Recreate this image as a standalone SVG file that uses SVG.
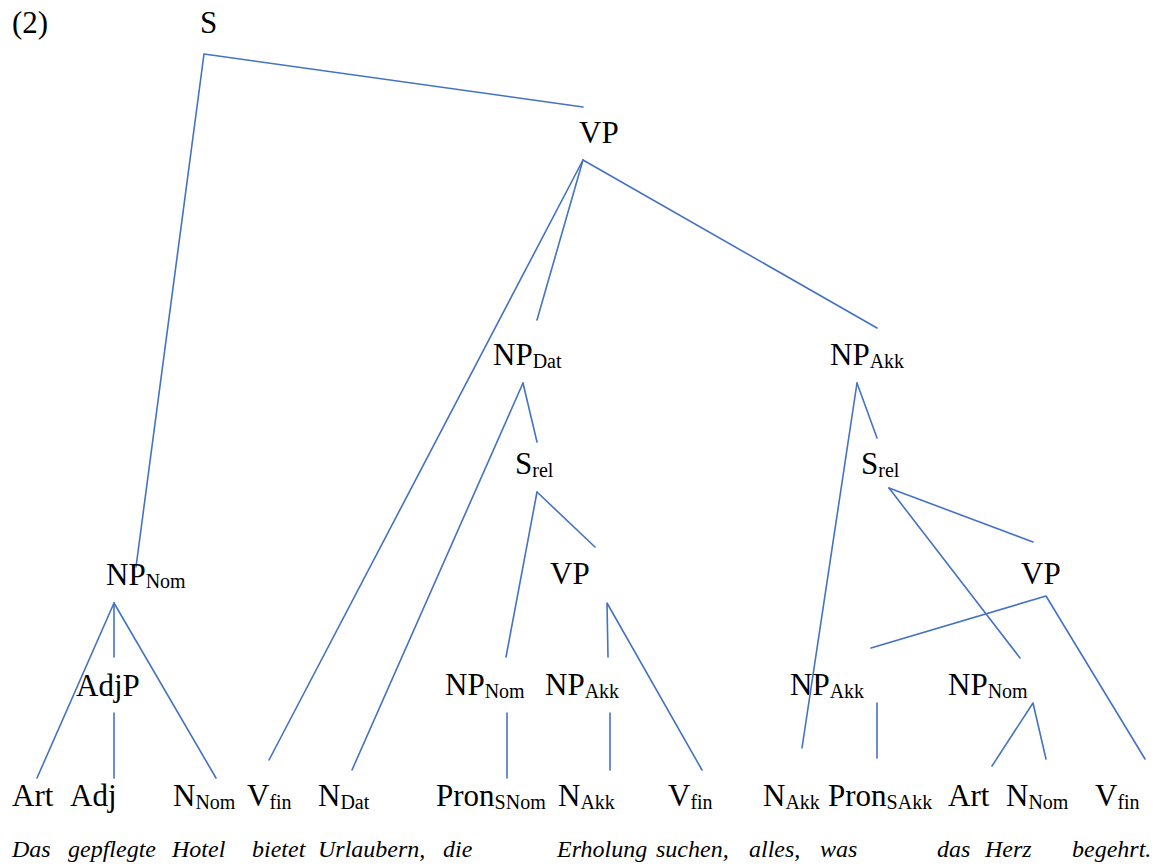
<svg xmlns="http://www.w3.org/2000/svg" width="1165" height="866" viewBox="0 0 1165 866">
  <style>
    .lbl { font-family: 'Liberation Serif', 'DejaVu Serif', 'Times New Roman', Times, serif; font-size: 31px; fill: #000; }
    .sub { font-size: 20px; }
    .word { font-family: 'Liberation Serif', 'DejaVu Serif', 'Times New Roman', Times, serif; font-size: 24px; font-style: italic; fill: #000; }
    .edge { stroke: #4472C4; stroke-width: 1.6; fill: none; stroke-linecap: round; stroke-linejoin: round; }
  </style>
  <rect width="1165" height="866" fill="#fff"/>

  <!-- example number -->
  <text class="lbl" x="12" y="33">(2)</text>

  <!-- tree connectors -->
  <g id="connectors" class="edge">
    <polyline points="136,567 204,54 583,107"/>
    <line x1="583" y1="160" x2="269" y2="760"/>
    <line x1="583" y1="160" x2="537" y2="320"/>
    <line x1="583" y1="160" x2="877" y2="328"/>
    <line x1="523" y1="383" x2="352" y2="770"/>
    <line x1="523" y1="383" x2="537" y2="442"/>
    <line x1="537" y1="492" x2="506" y2="657"/>
    <line x1="537" y1="492" x2="595" y2="547"/>
    <polyline points="608,657 607,603 702,770"/>
    <line x1="507" y1="713" x2="507" y2="778"/>
    <line x1="610" y1="713" x2="610" y2="770"/>
    <line x1="114" y1="603" x2="37" y2="778"/>
    <line x1="114" y1="603" x2="114" y2="657"/>
    <line x1="114" y1="603" x2="216" y2="778"/>
    <line x1="114" y1="713" x2="114" y2="778"/>
    <line x1="857" y1="383" x2="877" y2="438"/>
    <line x1="857" y1="383" x2="802" y2="748"/>
    <line x1="889" y1="488" x2="1033" y2="542"/>
    <line x1="889" y1="488" x2="1020" y2="658"/>
    <polyline points="871,648 1046,596 1145,759"/>
    <line x1="877" y1="703" x2="877" y2="758"/>
    <polyline points="992,766 1033,703 1046,759"/>
  </g>

  <!-- phrase nodes -->
  <g id="n-s"><text class="lbl" x="200" y="33">S</text></g>
  <g id="n-vp"><text class="lbl" x="579" y="143">VP</text></g>
  <g id="n-np-dat"><text class="lbl" x="493" y="365">NP<tspan class="sub" dy="3">Dat</tspan></text></g>
  <g id="n-np-akk"><text class="lbl" x="830" y="365">NP<tspan class="sub" dy="3">Akk</tspan></text></g>
  <g id="n-srel-1"><text class="lbl" x="515" y="474">S<tspan class="sub" dy="3">rel</tspan></text></g>
  <g id="n-srel-2"><text class="lbl" x="861" y="474">S<tspan class="sub" dy="3">rel</tspan></text></g>
  <g id="n-np-nom"><text class="lbl" x="106" y="585">NP<tspan class="sub" dy="3">Nom</tspan></text></g>
  <g id="n-vp-1"><text class="lbl" x="550" y="584">VP</text></g>
  <g id="n-vp-2"><text class="lbl" x="1021" y="584">VP</text></g>
  <g id="n-adjp"><text class="lbl" x="76" y="696">AdjP</text></g>
  <g id="n-np-nom-1"><text class="lbl" x="445" y="695">NP<tspan class="sub" dy="3">Nom</tspan></text></g>
  <g id="n-np-akk-1"><text class="lbl" x="545" y="695">NP<tspan class="sub" dy="3">Akk</tspan></text></g>
  <g id="n-np-akk-2"><text class="lbl" x="790" y="695">NP<tspan class="sub" dy="3">Akk</tspan></text></g>
  <g id="n-np-nom-2"><text class="lbl" x="948" y="695">NP<tspan class="sub" dy="3">Nom</tspan></text></g>

  <!-- word-class leaves -->
  <g id="t-art-1"><text class="lbl" x="12" y="806">Art</text></g>
  <g id="t-adj"><text class="lbl" x="70" y="806">Adj</text></g>
  <g id="t-n-nom-1"><text class="lbl" x="173" y="806">N<tspan class="sub" dy="3">Nom</tspan></text></g>
  <g id="t-vfin-1"><text class="lbl" x="247" y="806">V<tspan class="sub" dy="3">fin</tspan></text></g>
  <g id="t-n-dat"><text class="lbl" x="318" y="806">N<tspan class="sub" dy="3">Dat</tspan></text></g>
  <g id="t-pron-snom"><text class="lbl" x="436" y="806">Pron<tspan class="sub" dy="3">SNom</tspan></text></g>
  <g id="t-n-akk-1"><text class="lbl" x="558" y="806">N<tspan class="sub" dy="3">Akk</tspan></text></g>
  <g id="t-vfin-2"><text class="lbl" x="668" y="806">V<tspan class="sub" dy="3">fin</tspan></text></g>
  <g id="t-n-akk-2"><text class="lbl" x="763" y="806">N<tspan class="sub" dy="3">Akk</tspan></text></g>
  <g id="t-pron-sakk"><text class="lbl" x="828" y="806">Pron<tspan class="sub" dy="3">SAkk</tspan></text></g>
  <g id="t-art-2"><text class="lbl" x="948" y="806">Art</text></g>
  <g id="t-n-nom-2"><text class="lbl" x="1006" y="806">N<tspan class="sub" dy="3">Nom</tspan></text></g>
  <g id="t-vfin-3"><text class="lbl" x="1095" y="806">V<tspan class="sub" dy="3">fin</tspan></text></g>

  <!-- sentence words -->
  <g id="sentence" class="word">
    <text x="12" y="857">Das</text>
    <text x="68" y="857">gepflegte</text>
    <text x="172" y="857">Hotel</text>
    <text x="252" y="857">bietet</text>
    <text x="318" y="857">Urlaubern,</text>
    <text x="443" y="857">die</text>
    <text x="557" y="857">Erholung</text>
    <text x="656" y="857">suchen,</text>
    <text x="749" y="857">alles,</text>
    <text x="820" y="857">was</text>
    <text x="937" y="857">das</text>
    <text x="985" y="857">Herz</text>
    <text x="1072" y="857">begehrt.</text>
  </g>
</svg>
